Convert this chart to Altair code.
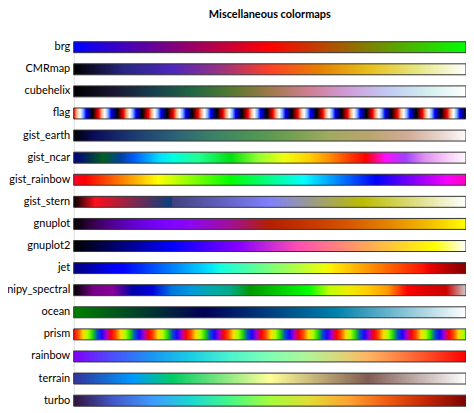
import altair as alt
import pandas as pd

names = ["brg", "CMRmap", "cubehelix", "flag", "gist_earth", "gist_ncar",
         "gist_rainbow", "gist_stern", "gnuplot", "gnuplot2", "jet",
         "nipy_spectral", "ocean", "prism", "rainbow", "terrain", "turbo"]

# colour stops [offset, colour]
brg = [[0, "#0000ff"], [0.5, "#ff0000"], [1, "#00ff00"]]
cmrmap = [[0, "#000000"], [0.125, "#262680"], [0.25, "#4d26bf"], [0.375, "#993380"],
          [0.5, "#ff4026"], [0.625, "#e68000"], [0.75, "#e6bf1a"], [0.875, "#e6e680"],
          [1, "#ffffff"]]
cubehelix = [[0, "#000000"], [0.1, "#1a1530"], [0.2, "#163d4e"], [0.3, "#1f6642"],
             [0.4, "#54792f"], [0.5, "#a07949"], [0.6, "#d07e93"], [0.7, "#cf9cda"],
             [0.8, "#c1caf3"], [0.9, "#d2eeef"], [1, "#ffffff"]]
flag_cycle = ["#ff0000", "#ffb480", "#ffffff", "#80b4ff",
              "#0000ff", "#000080", "#000000", "#800000"]
flag_cycles = 15.75
flag_end = "#000000"
gist_earth = [[0, "#000000"], [0.05, "#0a0a5a"], [0.15, "#1a3a72"], [0.25, "#2a6078"],
              [0.35, "#3a8068"], [0.45, "#4a9454"], [0.55, "#70a050"], [0.65, "#a0aa60"],
              [0.75, "#baa56c"], [0.85, "#d0ac96"], [0.95, "#ecdcd8"], [1, "#fdfbfb"]]
gist_ncar = [[0, "#000080"], [0.04, "#003050"], [0.075, "#006020"], [0.12, "#0040a0"],
             [0.155, "#0060ff"], [0.22, "#00e0ff"], [0.255, "#00ffe0"], [0.32, "#20ff90"],
             [0.4, "#00e010"], [0.47, "#90ff30"], [0.535, "#f0ff10"], [0.6, "#ffd000"],
             [0.65, "#ff9000"], [0.7, "#ff4000"], [0.745, "#ff0000"], [0.795, "#ff10ff"],
             [0.845, "#a040ff"], [0.895, "#e090f0"], [0.955, "#f8d0f8"], [1, "#fef8fe"]]
gist_rainbow = [[0, "#ff0029"], [0.03, "#ff0000"], [0.215, "#ffff00"], [0.4, "#00ff00"],
                [0.586, "#00ffff"], [0.77, "#0000ff"], [0.954, "#ff00ff"], [1, "#ff00bf"]]
gist_stern = [[0, "#000000"], [0.0547, "#ff0e1c"], [0.25, "#074080"], [0.25, "#404080"],
              [0.5, "#8080ff"], [0.735, "#bbbb00"], [1, "#ffffff"]]
gnuplot = [[0, "#000000"], [0.05, "#39004f"], [0.1, "#510096"], [0.15, "#6300ce"],
           [0.2, "#7202f2"], [0.25, "#8004ff"], [0.3, "#8c07f2"], [0.4, "#a11096"],
           [0.5, "#b42000"], [0.6, "#c63700"], [0.7, "#d55700"], [0.8, "#e48300"],
           [0.9, "#f2ba00"], [1, "#ffff00"]]
gnuplot2 = [[0, "#000000"], [0.25, "#0000ff"], [0.42, "#8700ff"], [0.57, "#ff4db3"],
            [0.92, "#ffff00"], [1, "#ffffff"]]
jet = [[0, "#000080"], [0.11, "#0000ff"], [0.125, "#0000ff"], [0.34, "#00dbff"],
       [0.35, "#02e5f8"], [0.375, "#15ffe2"], [0.64, "#eeff08"], [0.66, "#ffec00"],
       [0.89, "#ff1300"], [0.91, "#e80000"], [1, "#800000"]]
nipy_spectral = [[0, "#000000"], [0.05, "#770088"], [0.1, "#880099"], [0.15, "#0000aa"],
                 [0.2, "#0000dd"], [0.25, "#0077dd"], [0.3, "#0099dd"], [0.35, "#00aaaa"],
                 [0.4, "#00aa88"], [0.45, "#009900"], [0.5, "#00bb00"], [0.55, "#00dd00"],
                 [0.6, "#00ff00"], [0.65, "#bbff00"], [0.7, "#eeee00"], [0.75, "#ffcc00"],
                 [0.8, "#ff9900"], [0.85, "#ff0000"], [0.9, "#dd0000"], [0.95, "#cc0000"],
                 [1, "#cccccc"]]
ocean = [[0, "#008000"], [0.3333, "#000055"], [0.6667, "#0080aa"], [1, "#ffffff"]]
prism_cycle = ["#ff0000", "#ff5400", "#ffdb00", "#abff00",
               "#24db00", "#0054c6", "#2400ff", "#ab00c6"]
prism_cycles = 10.45
prism_end = "#55ff00"
rainbow = [[0, "#8000ff"], [0.1, "#4d4ffc"], [0.15, "#3374f8"], [0.2, "#1a96f3"],
           [0.3, "#1acee3"], [0.4, "#4df3ce"], [0.5, "#80ffb4"], [0.6, "#b3f396"],
           [0.7, "#e6ce74"], [0.75, "#ffb462"], [0.8, "#ff964f"], [0.9, "#ff4f28"],
           [1, "#ff0000"]]
terrain = [[0, "#333399"], [0.15, "#0099ff"], [0.25, "#00cc66"], [0.5, "#ffff99"],
           [0.75, "#805c54"], [1, "#ffffff"]]
turbo = [[0, "#30123b"], [0.1, "#4457c8"], [0.2, "#3e9bfe"], [0.3, "#1ad8d1"],
         [0.4, "#46f884"], [0.5, "#a4fc3c"], [0.6, "#e1dd37"], [0.7, "#fea331"],
         [0.8, "#ef5a11"], [0.9, "#c42503"], [1, "#7a0403"]]


def periodic(cycle, cycles, end):
    n = len(cycle)
    total = cycles * n
    out = []
    k = 0
    while k <= total:
        out.append([k / total, cycle[k % n]])
        k += 1
    if out[-1][0] < 1:
        out.append([1, end])
    return out


stops = {
    "brg": brg, "CMRmap": cmrmap, "cubehelix": cubehelix,
    "flag": periodic(flag_cycle, flag_cycles, flag_end),
    "gist_earth": gist_earth, "gist_ncar": gist_ncar, "gist_rainbow": gist_rainbow,
    "gist_stern": gist_stern, "gnuplot": gnuplot, "gnuplot2": gnuplot2, "jet": jet,
    "nipy_spectral": nipy_spectral, "ocean": ocean,
    "prism": periodic(prism_cycle, prism_cycles, prism_end),
    "rainbow": rainbow, "terrain": terrain, "turbo": turbo,
}

df = pd.DataFrame({"name": names})

W = 394
H = 366
FONT = "Lato"

yenc = alt.Y(
    "name:N",
    sort=names,
    scale=alt.Scale(domain=names, paddingInner=0.504, paddingOuter=0),
    axis=alt.Axis(title=None, ticks=False, domain=False, grid=False,
                  labelPadding=4, labelFont=FONT, labelFontSize=11,
                  labelColor="#000000"),
)

layers = []
for n in names:
    grad = {
        "gradient": "linear", "x1": 0, "x2": 1, "y1": 0, "y2": 0,
        "stops": [{"offset": o, "color": c} for o, c in stops[n]],
    }
    layers.append(
        alt.Chart(df)
        .transform_filter(alt.datum.name == n)
        .mark_rect(fill=grad, stroke="#333333", strokeWidth=1)
        .encode(y=yenc, x=alt.value(0), x2=alt.value(W))
    )

chart = (
    alt.layer(*layers)
    .properties(
        width=W, height=H,
        autosize=alt.AutoSizeParams(type="none"),
        padding={"left": 66, "top": 33, "right": 0, "bottom": 0},
        title=alt.TitleParams("Miscellaneous colormaps", font=FONT, fontSize=11,
                              fontWeight="bold", anchor="middle", color="#000000",
                              offset=21),
    )
    .configure_view(stroke=None)
    .configure(background="white")
)

chart.save("out.html", embed_options={"renderer": "svg", "actions": False})
